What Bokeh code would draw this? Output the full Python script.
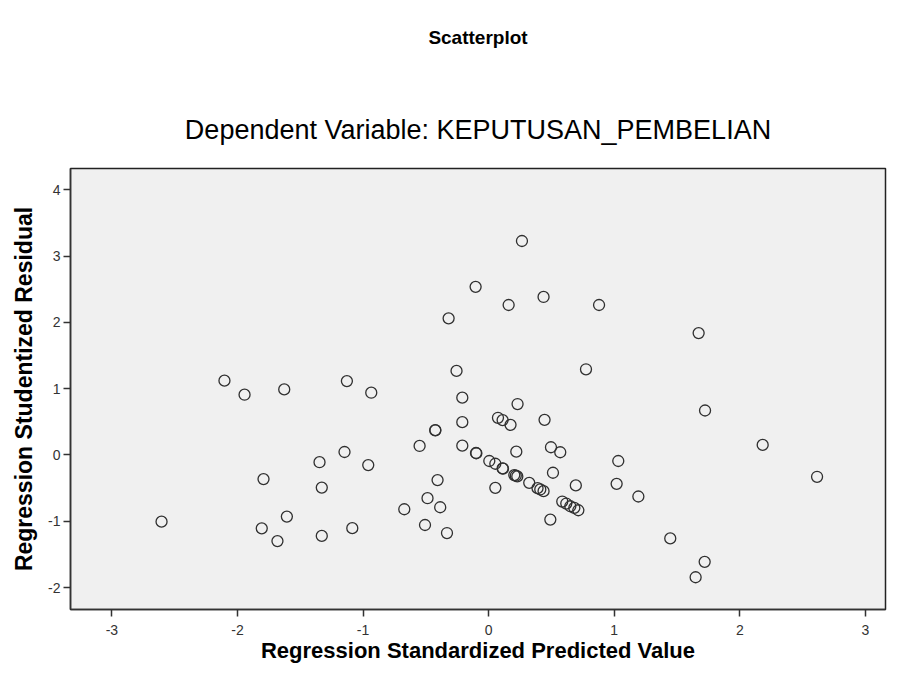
from bokeh.plotting import figure
from bokeh.models import Range1d, FixedTicker, Title, ColumnDataSource
from bokeh.embed import file_html
from bokeh.resources import INLINE

# Regression Standardized Predicted Value
pred = [-2.104, -1.944, -1.628, -1.129, -0.935, -2.605, -1.793, -1.807, -1.682, -1.607,
        -1.347, -1.329, -1.329, -1.148, -1.086, -0.959, -0.672, -0.550, -0.487, -0.507,
        -0.425, -0.425, -0.407, -0.386, -0.332, -0.319, -0.256, -0.210, -0.210, -0.210,
        -0.104, -0.101, -0.098, 0.005, 0.053, 0.111, 0.114, 0.053, 0.074, 0.111,
        0.174, 0.230, 0.220, 0.204, 0.228, 0.216, 0.323, 0.389, 0.411, 0.437,
        0.445, 0.496, 0.570, 0.512, 0.491, 0.586, 0.618, 0.650, 0.682, 0.714,
        0.694, 0.265, 0.159, 0.437, 0.879, 0.775, 1.032, 1.019, 1.192, 1.723,
        2.182, 2.615, 1.446, 1.720, 1.648, 1.672]
# Regression Studentized Residual
resid = [1.121, 0.909, 0.989, 1.114, 0.939, -1.005, -0.364, -1.106, -1.298, -0.929,
         -0.109, -0.492, -1.220, 0.045, -1.103, -0.152, -0.818, 0.136, -0.652, -1.056,
         0.371, 0.376, -0.379, -0.788, -1.177, 2.061, 1.268, 0.864, 0.495, 0.141,
         2.535, 0.030, 0.026, -0.091, -0.132, -0.202, -0.206, -0.495, 0.561, 0.526,
         0.455, 0.768, 0.050, -0.303, -0.323, -0.313, -0.420, -0.500, -0.520, -0.545,
         0.530, 0.117, 0.041, -0.268, -0.974, -0.702, -0.732, -0.773, -0.798, -0.833,
         -0.459, 3.227, 2.262, 2.383, 2.262, 1.292, -0.091, -0.435, -0.626, 0.671,
         0.152, -0.329, -1.258, -1.611, -1.844, 1.838]

x_ticks = [-3, -2, -1, 0, 1, 2, 3]
x_tick_labels = ["-3", "-2", "-1", "0", "1", "2", "3"]
y_ticks = [-2, -1, 0, 1, 2, 3, 4]
y_tick_labels = ["-2", "-1", "0", "1", "2", "3", "4"]

title_text = "Scatterplot"
subtitle_text = "Dependent Variable: KEPUTUSAN_PEMBELIAN"

FONT = "Liberation Sans"

p = figure(width=895, height=665, x_range=Range1d(-3.33, 3.16), y_range=Range1d(-2.33, 4.32),
           output_backend="svg", toolbar_location=None,
           min_border_left=70, min_border_right=10, min_border_top=168, min_border_bottom=40)

p.background_fill_color = "#f0f0f0"
p.border_fill_color = "white"
p.outline_line_color = "#222222"
p.outline_line_width = 1.5
p.xgrid.visible = False
p.ygrid.visible = False

p.title.text = title_text
p.title.align = "center"
p.title.text_font = FONT
p.title.text_font_size = "19px"
p.title.text_font_style = "bold"
p.title.text_color = "black"
p.title.standoff = 47

# subtitle (closest to the frame), then an invisible spacer between the two titles
p.add_layout(Title(text=subtitle_text, align="center", text_font=FONT,
                   text_font_size="27px", text_font_style="normal", text_color="black",
                   standoff=48), "above")
p.add_layout(Title(text=" ", align="center", text_font=FONT, text_font_size="10px",
                   text_color="white", standoff=4), "above")

src = ColumnDataSource(dict(x=pred, y=resid))
p.scatter("x", "y", source=src, marker="circle", size=11, fill_color=None,
          line_color="#303030", line_width=1.3)

for ax, ticks, labels in ((p.xaxis[0], x_ticks, x_tick_labels), (p.yaxis[0], y_ticks, y_tick_labels)):
    ax.ticker = FixedTicker(ticks=ticks)
    ax.major_label_overrides = {t: l for t, l in zip(ticks, labels)}
    ax.minor_tick_line_color = None
    ax.major_tick_in = 0
    ax.major_tick_out = 7
    ax.major_tick_line_color = "#333333"
    ax.major_tick_line_width = 1.5
    ax.axis_line_color = "#333333"
    ax.axis_line_width = 1.5
    ax.major_label_text_font = FONT
    ax.major_label_text_font_size = "14px"
    ax.major_label_text_color = "#333333"
    ax.axis_label_text_font = FONT
    ax.axis_label_text_font_style = "bold"
    ax.axis_label_text_color = "black"

p.xaxis.axis_label = "Regression Standardized Predicted Value"
p.yaxis.axis_label = "Regression Studentized Residual"
p.xaxis.axis_label_text_font_size = "22px"
p.yaxis.axis_label_text_font_size = "23px"
p.xaxis.major_label_standoff = 8
p.yaxis.major_label_standoff = 3
p.xaxis.axis_label_standoff = 0
p.yaxis.axis_label_standoff = 8

open("out.html", "w").write(file_html(p, INLINE))
